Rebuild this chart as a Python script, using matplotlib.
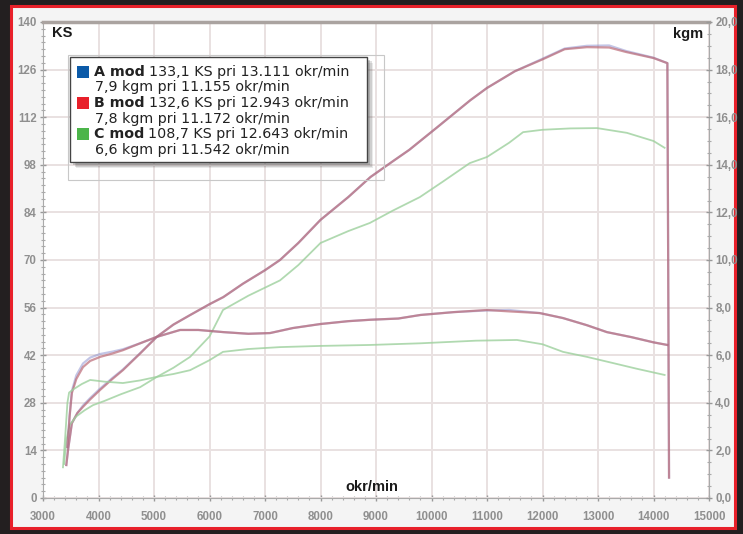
import matplotlib
matplotlib.use("Agg")
import matplotlib.pyplot as plt
from matplotlib.patches import Rectangle
from matplotlib.ticker import MultipleLocator, FuncFormatter

# --- data ---
# power curves (KS), A and B run almost on top of each other
rpm_ab_power = [3420, 3450, 3520, 3620, 3720, 3850, 4030, 4250, 4440, 4750, 5050, 5350,
                5650, 6000, 6250, 6600, 7000, 7270, 7600, 8000, 8500, 8900, 9300, 9600,
                10100, 10700, 11000, 11500, 12000, 12400, 12800, 13200, 13500, 14000,
                14250, 14280]
ks_a = [9.7, 14, 22, 25, 27.2, 29.4, 32.2, 35.3, 37.8, 42.6, 47.4, 51, 53.8, 57, 59.1, 63,
        67, 70, 75, 81.8, 88.5, 94.4, 99, 102.4, 109, 117, 120.6, 125.5, 129.2, 132.2,
        133.0, 133.1, 131.5, 129.5, 127.9, 6]
ks_b = [9.7, 14, 22, 25, 26.8, 29, 31.8, 35, 37.6, 42.5, 47.4, 51, 53.8, 57, 59.1, 63,
        67, 70, 75, 81.8, 88.5, 94.4, 99, 102.4, 109, 117, 120.6, 125.5, 129, 132,
        132.6, 132.5, 131.2, 129.4, 127.9, 6]

# torque curves (kgm)
rpm_ab_torque = [3440, 3480, 3520, 3600, 3720, 3850, 4030, 4250, 4440, 4750, 5050, 5470,
                 5800, 6250, 6700, 7090, 7500, 8000, 8500, 8900, 9400, 9800, 10400, 11000,
                 11400, 11950, 12370, 12800, 13160, 13600, 14000, 14250]
kgm_a = [2.14, 3.5, 4.5, 5.15, 5.65, 5.9, 6.05, 6.15, 6.25, 6.5, 6.77, 7.06, 7.06, 6.97,
         6.9, 6.93, 7.14, 7.31, 7.43, 7.49, 7.54, 7.69, 7.81, 7.88, 7.9, 7.77, 7.56, 7.26,
         6.97, 6.76, 6.54, 6.43]
kgm_b = [2.14, 3.43, 4.41, 5.0, 5.5, 5.76, 5.93, 6.07, 6.21, 6.5, 6.77, 7.06, 7.06, 6.97,
         6.9, 6.93, 7.14, 7.31, 7.43, 7.49, 7.54, 7.69, 7.81, 7.9, 7.84, 7.77, 7.56, 7.26,
         6.97, 6.76, 6.54, 6.43]

rpm_c_power = [3380, 3420, 3480, 3600, 3750, 3900, 4100, 4400, 4750, 5050, 5350, 5650,
               6000, 6243, 6700, 7270, 7600, 8000, 8500, 8890, 9300, 9790, 10200, 10690,
               11000, 11400, 11650, 12000, 12500, 12980, 13520, 14000, 14200]
ks_c = [10, 17, 21.5, 24, 25.8, 27.3, 28.5, 30.5, 32.6, 35.6, 38.3, 41.5, 47.5, 55.3, 59.5,
        64, 68.5, 75, 78.5, 80.9, 84.5, 88.5, 93, 98.5, 100.3, 104.5, 107.6, 108.3, 108.7,
        108.8, 107.4, 105, 103]

rpm_c_torque = [3360, 3400, 3440, 3470, 3550, 3700, 3850, 4100, 4440, 4750, 5050, 5350,
                5650, 6000, 6243, 6700, 7270, 8000, 8890, 9800, 10800, 11540, 12000, 12370,
                12800, 13270, 13700, 14200]
kgm_c = [1.29, 2.57, 4.0, 4.43, 4.57, 4.79, 4.96, 4.89, 4.83, 4.94, 5.09, 5.21, 5.37, 5.79,
         6.14, 6.26, 6.34, 6.39, 6.43, 6.5, 6.61, 6.64, 6.46, 6.14, 5.93, 5.67, 5.43, 5.17]

legend_names = ["A mod", "B mod", "C mod"]
legend_line1 = ["133,1 KS pri 13.111 okr/min", "132,6 KS pri 12.943 okr/min",
                "108,7 KS pri 12.643 okr/min"]
legend_line2 = ["7,9 kgm pri 11.155 okr/min", "7,8 kgm pri 11.172 okr/min",
                "6,6 kgm pri 11.542 okr/min"]
legend_colors = ["#0b5aa8", "#e8202a", "#4cb54a"]

W, H = 743, 534


def px(x, y):
    return x / W, 1 - y / H


fig = plt.figure(figsize=(W / 100, H / 100), dpi=100)
fig.patch.set_facecolor("#231f20")
fig.patches.append(Rectangle(px(11, 528), 724 / W, 522 / H, transform=fig.transFigure,
                             facecolor="#f4f4f4", edgecolor="#e8202a", lw=2.2, zorder=-5))

x0, y0 = px(43, 498)
x1, y1 = px(709, 22)
ax = fig.add_axes([x0, y0, x1 - x0, y1 - y0])
ax.set_facecolor("white")
ax.set_xlim(3000, 15000)
ax.set_ylim(0, 140)

tick_font = dict(family=["Liberation Sans Narrow", "Liberation Sans", "DejaVu Sans"],
                 size=8.3, weight="bold", color="#8f8f8f")

ax.xaxis.set_major_locator(MultipleLocator(1000))
ax.xaxis.set_minor_locator(MultipleLocator(200))
ax.yaxis.set_major_locator(MultipleLocator(14))
ax.yaxis.set_minor_locator(MultipleLocator(2))
ax.grid(True, which="major", color="#e9e1e1", lw=1.4)
ax.set_axisbelow(True)
for lab in ax.get_xticklabels() + ax.get_yticklabels():
    lab.set(**tick_font)
ax.tick_params(which="major", direction="inout", length=5, width=1, color="#999999", pad=2)
ax.tick_params(axis="x", which="major", pad=7)
ax.tick_params(which="minor", direction="inout", length=3, width=0.8, color="#aaaaaa")
for s in ["left", "bottom", "right"]:
    ax.spines[s].set_color("#aaaaaa")
ax.spines["top"].set_color("#aaa3a0")
ax.spines["top"].set_linewidth(2.5)

ax2 = ax.twinx()
ax2.set_ylim(0, 20)
ax2.yaxis.set_major_locator(MultipleLocator(2))
ax2.yaxis.set_minor_locator(MultipleLocator(0.5))
ax2.yaxis.set_major_formatter(FuncFormatter(lambda v, p: f"{v:.1f}".replace(".", ",")))
ax2.tick_params(which="major", direction="inout", length=5, width=1, color="#999999", pad=2)
ax2.tick_params(which="minor", direction="inout", length=3, width=0.8, color="#aaaaaa")
for lab in ax2.get_yticklabels():
    lab.set(**tick_font)
for s in ax2.spines.values():
    s.set_visible(False)

# curves
ax.plot(rpm_ab_power, ks_a, color="#7a80c8", lw=1.6, alpha=0.45)
ax.plot(rpm_ab_power, ks_b, color="#bb6a76", lw=1.6, alpha=0.7)
ax.plot(rpm_c_power, ks_c, color="#9dd09d", lw=1.3, alpha=0.8)
ax2.plot(rpm_ab_torque, kgm_a, color="#7a80c8", lw=1.6, alpha=0.45)
ax2.plot(rpm_ab_torque, kgm_b, color="#bb6a76", lw=1.6, alpha=0.7)
ax2.plot(rpm_c_torque, kgm_c, color="#9dd09d", lw=1.3, alpha=0.8)

lab_font = dict(family=["Liberation Sans", "DejaVu Sans"], size=10.5, weight="bold",
                color="#1a1a1a")
fig.text(*px(52, 33), "KS", ha="left", va="center", **lab_font)
fig.text(*px(703, 34), "kgm", ha="right", va="center", **lab_font)
fig.text(*px(372, 487), "okr/min", ha="center", va="center", **lab_font)

# legend box with drop shadow
fig.patches.append(Rectangle(px(68, 180), 316 / W, 125 / H, transform=fig.transFigure,
                             facecolor="none", edgecolor="#c8c8c8", lw=0.8, zorder=3))
for i, a in enumerate([0.10, 0.15, 0.22]):
    off = 6 - i * 1.5
    fig.patches.append(Rectangle(px(70 + off, 162 + off), 297 / W, 105 / H,
                                 transform=fig.transFigure, facecolor="#333333",
                                 edgecolor="none", alpha=a, zorder=4))
fig.patches.append(Rectangle(px(70, 162), 297 / W, 105 / H, transform=fig.transFigure,
                             facecolor="white", edgecolor="#444444", lw=1.0, zorder=5))

leg_font = dict(family=["DejaVu Sans"], size=10.3, color="#222222", va="center", zorder=6)
fig.canvas.draw()
renderer = fig.canvas.get_renderer()
for i in range(3):
    yr = 72 + i * 31.2
    fig.patches.append(Rectangle(px(77, yr + 6), 12 / W, 12 / H, transform=fig.transFigure,
                                 facecolor=legend_colors[i], edgecolor="none", zorder=6))
    t = fig.text(*px(94, yr), legend_names[i], weight="bold", **leg_font)
    bb = t.get_window_extent(renderer)
    fig.text(bb.x1 / W + 4 / W, 1 - yr / H, legend_line1[i], **leg_font)
    fig.text(*px(95, yr + 15.5), legend_line2[i], **leg_font)

fig.savefig("out.png", dpi=100, facecolor=fig.get_facecolor())
